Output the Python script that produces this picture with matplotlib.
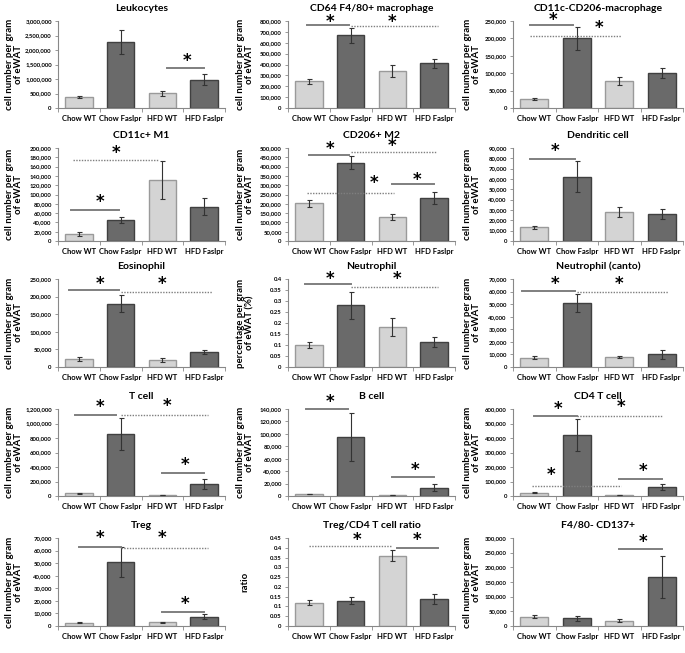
import matplotlib
matplotlib.use("Agg")
import matplotlib.pyplot as plt
from matplotlib.ticker import FixedLocator, FuncFormatter

plt.rcParams['font.family'] = ['Lato', 'DejaVu Sans']

groups = ["Chow WT", "Chow Faslpr", "HFD WT", "HFD Faslpr"]

titles = ["Leukocytes", "CD64 F4/80+ macrophage", "CD11c-CD206-macrophage",
          "CD11c+ M1", "CD206+ M2", "Dendritic cell",
          "Eosinophil", "Neutrophil", "Neutrophil (canto)",
          "T cell", "B cell", "CD4 T cell",
          "Treg", "Treg/CD4 T cell ratio", "F4/80- CD137+"]

ylabels = ["cell number per gram\nof eWAT"] * 15
ylabels[7] = "percentage per gram\nof eWAT (%)"
ylabels[13] = "ratio"

means = [
    [370000, 2280000, 510000, 970000],
    [245000, 668000, 342000, 410000],
    [25000, 200000, 77000, 100000],
    [15000, 45000, 131000, 74000],
    [202000, 420000, 128000, 233000],
    [13500, 62000, 28000, 26000],
    [23000, 180000, 20000, 43000],
    [0.100, 0.280, 0.182, 0.115],
    [7500, 51000, 8000, 10000],
    [40000, 855000, 15000, 165000],
    [3500, 95000, 1500, 13500],
    [22000, 418000, 7000, 63000],
    [2500, 51000, 3000, 7500],
    [0.12, 0.13, 0.36, 0.14],
    [32000, 26000, 18000, 168000],
]

errors = [
    [30000, 420000, 90000, 190000],
    [25000, 70000, 58000, 42000],
    [3000, 32000, 12000, 15000],
    [4000, 6000, 40000, 18000],
    [20000, 35000, 16000, 33000],
    [1500, 15000, 5000, 5000],
    [6000, 25000, 5000, 6000],
    [0.012, 0.062, 0.040, 0.022],
    [1000, 7000, 1000, 3500],
    [8000, 215000, 3000, 65000],
    [500, 38000, 300, 6000],
    [3000, 110000, 2000, 20000],
    [500, 12000, 500, 2000],
    [0.015, 0.02, 0.03, 0.025],
    [5000, 8000, 5000, 72000],
]

ymax = [3000000, 800000, 250000, 200000, 500000, 90000, 250000, 0.4, 70000,
        1200000, 140000, 600000, 70000, 0.45, 300000]
ystep = [500000, 100000, 50000, 20000, 50000, 10000, 50000, 0.05, 10000,
         200000, 20000, 100000, 10000, 0.05, 50000]

# significance lines: (x_start, x_end, y, style)
sig_lines = [
    [(2.1, 3.0, 1380000, '-')],
    [(-0.05, 0.95, 760000, '-'), (1.0, 3.1, 752000, ':')],
    [(-0.1, 0.9, 238000, '-'), (-0.1, 2.05, 208000, ':')],
    [(-0.2, 0.95, 66000, '-'), (-0.15, 1.9, 174000, ':')],
    [(0.0, 0.95, 463000, '-'), (1.0, 3.05, 476000, ':'), (-0.05, 2.05, 256000, ':'), (2.0, 3.0, 306000, '-')],
    [(-0.1, 0.95, 79700, '-')],
    [(-0.23, 0.95, 218000, '-'), (1.0, 3.2, 214000, ':')],
    [(-0.1, 1.0, 0.377, '-'), (1.0, 3.1, 0.362, ':')],
    [(-0.3, 0.95, 60400, '-'), (1.0, 3.15, 60000, ':')],
    [(-0.1, 0.9, 1121000, '-'), (1.0, 3.1, 1121000, ':'), (2.0, 3.0, 314000, '-')],
    [(-0.07, 0.93, 140000, '-'), (2.0, 3.0, 29800, '-')],
    [(0.0, 1.0, 550000, '-'), (1.0, 3.0, 554000, ':'), (-0.05, 2.05, 71000, ':'), (2.0, 3.0, 116000, '-')],
    [(0.0, 1.0, 63000, '-'), (1.0, 3.1, 62000, ':'), (2.0, 3.0, 11000, '-')],
    [(0.0, 2.0, 0.41, ':'), (2.1, 3.1, 0.40, '-')],
    [(2.0, 3.0, 262000, '-')],
]

# significance stars: (x, y)
sig_stars = [
    [(2.6, 1620000)],
    [(0.5, 795000), (2.0, 795000)],
    [(0.45, 252000), (1.52, 230000)],
    [(0.9, 190000), (0.5, 84000)],
    [(0.5, 493000), (2.0, 510000), (1.55, 310000), (2.6, 330000)],
    [(0.5, 87000)],
    [(0.5, 237000), (2.0, 237000)],
    [(0.5, 0.402), (2.1, 0.398)],
    [(0.5, 66000), (2.0, 66000)],
    [(0.5, 1230000), (2.1, 1240000), (2.55, 425000)],
    [(0.5, 151000), (2.55, 42000)],
    [(0.55, 600000), (2.05, 615000), (0.4, 148000), (2.55, 170000)],
    [(0.5, 70000), (2.0, 70000), (2.55, 17500)],
    [(1.15, 0.44), (2.6, 0.44)],
    [(2.55, 285000)],
]

W, H = 685, 653
fig = plt.figure(figsize=(W / 100, H / 100), dpi=100)

col_left = [58, 288, 513]
col_width = [167, 167, 170]
col_label_offset = [44, 43, 41]   # px left of axes for the y-label centre
row_top = [21, 148, 279, 409, 538]
row_bot = [108, 241, 367, 496, 626]

light_fc, light_ec = '#d4d4d4', '#9a9a9a'
dark_fc, dark_ec = '#6a6a6a', '#404040'


def fmt_comma(v, pos):
    return f"{int(round(v)):,}"


def fmt_g(v, pos):
    return f"{round(v, 3):g}"


for i in range(15):
    r, c = divmod(i, 3)
    left = col_left[c] / W
    bottom = 1 - row_bot[r] / H
    width = col_width[c] / W
    height = (row_bot[r] - row_top[r]) / H
    ax = fig.add_axes([left, bottom, width, height])
    xs = list(range(4))
    fcs = [light_fc, dark_fc, light_fc, dark_fc]
    ecs = [light_ec, dark_ec, light_ec, dark_ec]
    ax.bar(xs, means[i], width=0.66, color=fcs, edgecolor=ecs, linewidth=1.0, zorder=2)
    ax.errorbar(xs, means[i], yerr=errors[i], fmt='none', ecolor='#333333',
                elinewidth=0.8, capsize=1.8, capthick=0.8, zorder=3)
    ax.set_xlim(-0.5, 3.5)
    ax.set_ylim(0, ymax[i])
    n = int(round(ymax[i] / ystep[i]))
    ticks = [k * ystep[i] for k in range(n + 1)]
    ax.yaxis.set_major_locator(FixedLocator(ticks))
    if ymax[i] < 1:
        ax.yaxis.set_major_formatter(FuncFormatter(fmt_g))
    else:
        ax.yaxis.set_major_formatter(FuncFormatter(fmt_comma))
    ax.tick_params(axis='y', labelsize=4.3, length=2.5, width=0.6, color='#888888', pad=2)
    for lab in ax.get_yticklabels():
        lab.set_fontweight('bold')
    ax.set_xticks([-0.5, 0.5, 1.5, 2.5, 3.5])
    ax.set_xticklabels([])
    ax.tick_params(axis='x', which='major', length=3, width=0.6, color='#888888')
    ax.set_xticks(xs, minor=True)
    ax.set_xticklabels(groups, minor=True, fontsize=5.5, fontweight='bold')
    ax.tick_params(axis='x', which='minor', length=0, pad=5)
    for s in ['top', 'right']:
        ax.spines[s].set_visible(False)
    for s in ['left', 'bottom']:
        ax.spines[s].set_color('#888888')
        ax.spines[s].set_linewidth(0.8)
    ax.set_title(titles[i], fontsize=7.5, fontweight='bold', pad=7.5)
    ax.set_ylabel(ylabels[i], fontsize=6.9, fontweight='bold', linespacing=1.05,
                  va='center', ha='center')
    ax.yaxis.set_label_coords(-col_label_offset[c] / col_width[c], 0.5)
    for (x1, x2, y, st) in sig_lines[i]:
        if st == '-':
            ax.plot([x1, x2], [y, y], color='#7f7f7f', lw=1.4, ls='-', clip_on=False, zorder=4)
        else:
            ax.plot([x1, x2], [y, y], color='#7f7f7f', lw=1.0, ls=(0, (1, 1)), clip_on=False, zorder=4)
    for (x, y) in sig_stars[i]:
        ax.text(x, y, '*', fontsize=12, fontweight='bold', ha='center', va='center',
                family='DejaVu Sans', clip_on=False, zorder=5)

fig.savefig('out.png', dpi=100)
